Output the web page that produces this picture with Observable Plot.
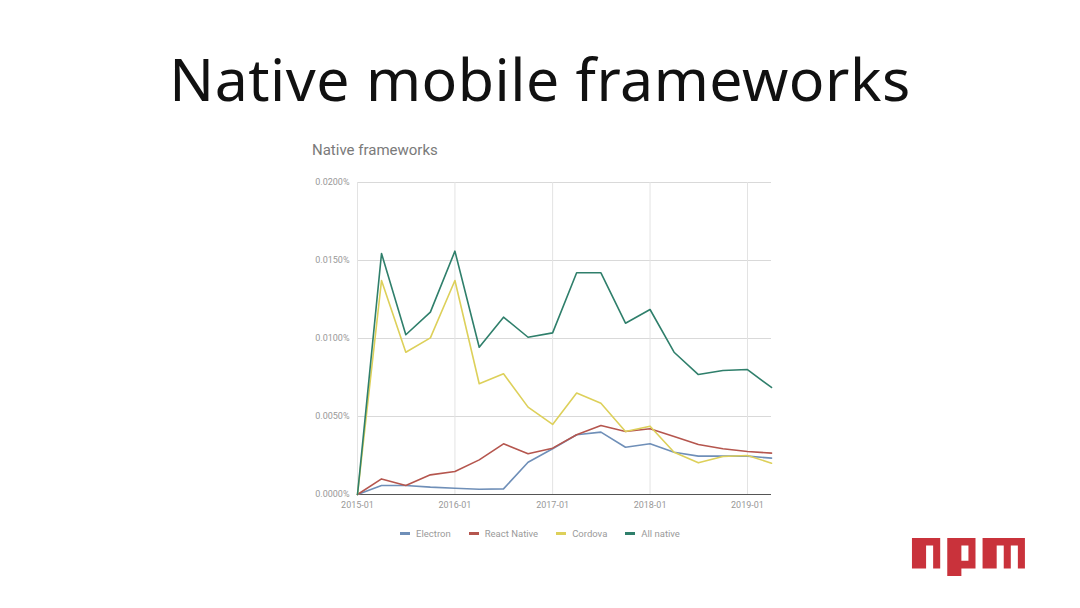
<!DOCTYPE html>
<html>
<head>
<meta charset="utf-8">
<script src="https://cdn.jsdelivr.net/npm/d3@7"></script>
<script src="https://cdn.jsdelivr.net/npm/@observablehq/plot@0.6"></script>
<style>
  html, body { margin: 0; padding: 0; background: #ffffff; }
  body { width: 1080px; height: 608px; position: relative; overflow: hidden; font-family: Roboto, "Noto Sans", sans-serif; }
  #title { position: absolute; left: 0; width: 1080px; top: 38px; text-align: center; font-family: "Noto Sans", sans-serif; font-size: 59px; color: #111; letter-spacing: 0.5px; }
  #subtitle { position: absolute; left: 312px; top: 141px; font-size: 15px; color: #7a7a7a; font-family: Roboto, sans-serif; }
  #chart { position: absolute; left: 290px; top: 170px; }
  #legend { position: absolute; left: 0; width: 1080px; top: 528px; display: flex; justify-content: center; gap: 18px; font-size: 9.5px; color: #9a9a9a; font-family: Roboto, sans-serif; }
  #legend span.item { display: inline-flex; align-items: center; }
  #legend span.sw { display: inline-block; width: 10px; height: 3px; margin-right: 6px; }
  #logo { position: absolute; left: 0; top: 0; }
</style>
</head>
<body>
<div id="title">Native mobile frameworks</div>
<div id="subtitle">Native frameworks</div>
<div id="chart"></div>
<div id="legend"></div>
<svg id="logo" width="1080" height="608" style="pointer-events:none">
  <g transform="translate(904.9,530.4) scale(7.06,7.6)" fill="#c9323b" fill-rule="evenodd">
    <path d="M1,5h2V2h1v3h1V1H1V5z"/>
    <path d="M6,1v5h2V5h2V1H6z M8,2h1v2H8V2z"/>
    <path d="M11,1v4h2V2h1v3h1V2h1v3h1V1H11z"/>
  </g>
</svg>
<script>
const quarters = ["2015-01","2015-04","2015-07","2015-10","2016-01","2016-04","2016-07","2016-10","2017-01","2017-04","2017-07","2017-10","2018-01","2018-04","2018-07","2018-10","2019-01","2019-04"];
const seriesNames = ["Electron","React Native","Cordova","All native"];
const seriesColors = ["#6f8fb8","#b5564e","#ddd05a","#2f7f6b"];
const electron    = [0, 0.00058, 0.00058, 0.00047, 0.00040, 0.00034, 0.00036, 0.00207, 0.00293, 0.00383, 0.00400, 0.00303, 0.00325, 0.00271, 0.00246, 0.00246, 0.00246, 0.00233];
const reactNative = [0, 0.00100, 0.00058, 0.00126, 0.00147, 0.00222, 0.00325, 0.00261, 0.00297, 0.00383, 0.00442, 0.00404, 0.00421, 0.00372, 0.00321, 0.00293, 0.00276, 0.00265];
const cordova     = [0, 0.01372, 0.00912, 0.01004, 0.01372, 0.00710, 0.00774, 0.00560, 0.00449, 0.00650, 0.00585, 0.00404, 0.00438, 0.00271, 0.00203, 0.00244, 0.00250, 0.00201];
const allNative   = [0, 0.01545, 0.01024, 0.01169, 0.01560, 0.00944, 0.01137, 0.01008, 0.01036, 0.01421, 0.01421, 0.01098, 0.01186, 0.00912, 0.00769, 0.00795, 0.00801, 0.00686];
const xTicks = ["2015-01","2016-01","2017-01","2018-01","2019-01"];
const yTicks = [0, 0.005, 0.01, 0.015, 0.02];

const parse = d3.utcParse("%Y-%m");
const allSeries = [electron, reactNative, cordova, allNative];
const rows = [];
allSeries.forEach((vals, si) => vals.forEach((v, i) => rows.push({date: parse(quarters[i]), value: v, series: seriesNames[si]})));

const chart = Plot.plot({
  width: 500,
  height: 345,
  marginLeft: 67,
  marginRight: 19,
  marginTop: 12,
  marginBottom: 21,
  style: {fontFamily: "Roboto, sans-serif", fontSize: "9px", color: "#999", background: "transparent"},
  x: {type: "utc", domain: [parse("2015-01"), parse("2019-04")], ticks: xTicks.map(parse), tickFormat: d3.utcFormat("%Y-%m"), tickSize: 0, tickPadding: 7, label: null},
  y: {domain: [0, 0.02], ticks: yTicks, tickFormat: d => d.toFixed(4) + "%", tickSize: 0, tickPadding: 8, label: null},
  color: {domain: seriesNames, range: seriesColors},
  marks: [
    Plot.gridY(yTicks, {stroke: "#d9d9d9", strokeOpacity: 1}),
    Plot.gridX(xTicks.map(parse), {stroke: "#e3e3e3", strokeOpacity: 1}),
    Plot.ruleY([0], {stroke: "#555", strokeWidth: 1}),
    Plot.lineY(rows, {x: "date", y: "value", z: "series", stroke: "series", strokeWidth: 1.6})
  ]
});
document.getElementById("chart").appendChild(chart);

const legend = document.getElementById("legend");
seriesNames.forEach((name, i) => {
  const item = document.createElement("span");
  item.className = "item";
  const sw = document.createElement("span");
  sw.className = "sw";
  sw.style.background = seriesColors[i];
  item.appendChild(sw);
  item.appendChild(document.createTextNode(name));
  legend.appendChild(item);
});
</script>
</body>
</html>
